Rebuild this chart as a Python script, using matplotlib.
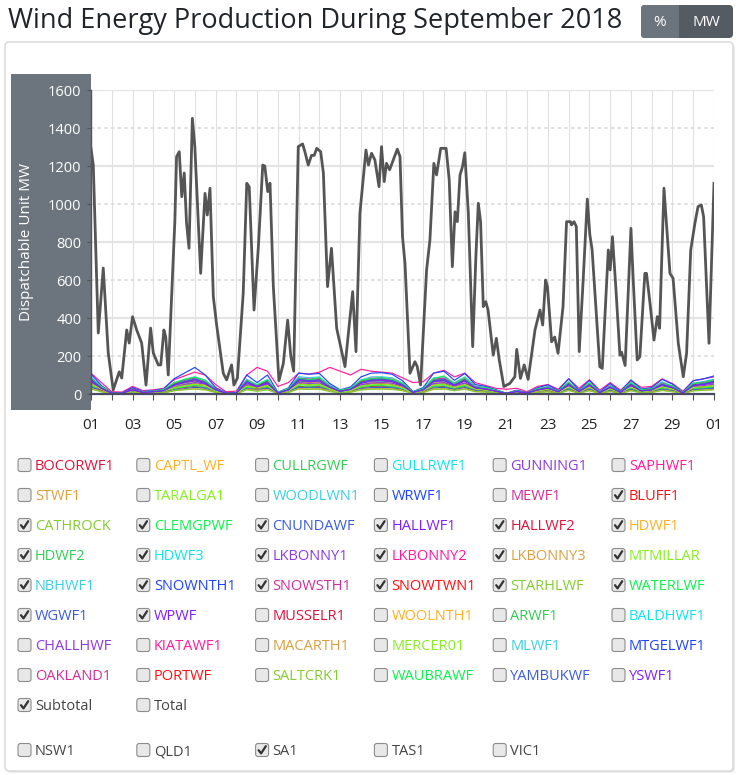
import numpy as np
import matplotlib
matplotlib.use("Agg")
import matplotlib.pyplot as plt
from matplotlib.patches import FancyBboxPatch, Rectangle

plt.rcParams['font.family'] = ['Open Sans', 'DejaVu Sans']

W, H = 738, 775

# SA subtotal (MW): day offset from 1 Sep, value
sub_days = [0.0, 0.11, 0.35, 0.59, 0.83, 1.07, 1.36, 1.48, 1.72, 1.84, 2.0, 2.2, 2.44, 2.65,
            2.87, 3.0, 3.24, 3.36, 3.51, 3.6, 3.72, 4.04, 4.12, 4.25, 4.37, 4.49, 4.6, 4.72,
            4.88, 5.0, 5.28, 5.49, 5.6, 5.73, 5.89, 6.05, 6.37, 6.53, 6.77, 6.88, 7.05, 7.33,
            7.5, 7.62, 7.85, 8.06, 8.27, 8.37, 8.51, 8.62, 8.78, 9.05, 9.26, 9.47, 9.62, 9.76,
            9.98, 10.19, 10.3, 10.46, 10.62, 10.75, 10.87, 11.06, 11.19, 11.39, 11.58, 11.83,
            12.23, 12.6, 12.76, 12.95, 13.24, 13.36, 13.51, 13.67, 13.87, 13.99, 14.12, 14.23,
            14.38, 14.75, 14.88, 15.0, 15.12, 15.36, 15.6, 15.71, 15.87, 16.16, 16.32, 16.51,
            16.64, 16.84, 17.1, 17.25, 17.4, 17.53, 17.64, 17.77, 17.89, 18.0, 18.17, 18.38,
            18.54, 18.65, 18.76, 18.89, 19.01, 19.12, 19.37, 19.52, 19.66, 19.88, 20.17, 20.41,
            20.5, 20.68, 20.86, 21.05, 21.38, 21.5, 21.62, 21.75, 21.89, 21.98, 22.18, 22.33,
            22.49, 22.73, 22.9, 23.09, 23.14, 23.26, 23.37, 23.51, 23.7, 23.9, 24.02, 24.13,
            24.5, 24.62, 24.91, 25.0, 25.11, 25.27, 25.47, 25.55, 25.72, 26.0, 26.11, 26.3,
            26.43, 26.67, 26.75, 26.9, 27.11, 27.27, 27.38, 27.59, 27.88, 28.03, 28.28, 28.52,
            28.68, 28.88, 29.08, 29.23, 29.39, 29.5, 29.76, 30.0]
sub_mw = [1293, 1205, 321, 663, 216, 21, 117, 84, 337, 268, 407, 337, 268, 47,
          347, 216, 153, 153, 337, 300, 100, 916, 1249, 1275, 1038, 1163, 900, 767,
          1451, 1302, 635, 1056, 942, 1083, 512, 363, 109, 74, 153, 47, 84, 530,
          1109, 1090, 442, 775, 1205, 1200, 1065, 1109, 565, 70, 160, 389, 200, 120,
          1302, 1316, 1275, 1205, 1256, 1256, 1293, 1275, 1163, 565, 767, 346,
          144, 539, 223, 951, 1284, 1205, 1267, 1232, 1091, 1302, 1118, 1214,
          1180, 1289, 1249, 828, 688, 109, 170, 144, 47, 653, 810, 1214,
          1153, 1293, 1293, 1126, 670, 959, 907, 1153, 1197, 1270, 951, 249,
          740, 1004, 907, 460, 486, 442, 205, 293, 179, 39, 56, 91,
          235, 82, 153, 77, 337, 389, 442, 363, 600, 565, 275, 300,
          214, 460, 907, 907, 890, 907, 881, 223, 600, 1026, 839, 760,
          144, 135, 758, 653, 828, 565, 205, 220, 150, 872, 600, 179,
          196, 635, 635, 495, 284, 407, 346, 1083, 635, 609, 267, 91,
          214, 758, 898, 986, 995, 933, 267, 1109]

# individual SA units (MW), sampled every half day
farm_days = np.arange(0, 30.5, 0.5)
bluff1 = [40,17,2,3,13,5,7,10,26,34,41,33,12,2,3,35,22,34,3,12,40,38,40,20,8,14,33,40,41,37,26,5,13,38,40,27,40,18,15,8,2,7,3,12,18,7,28,7,27,4,20,5,27,10,13,28,19,3,25,29,34]
cathrock = [50,25,3,5,18,6,10,14,30,45,48,42,14,4,4,40,30,42,5,16,52,46,50,24,10,18,40,48,50,47,30,6,17,45,50,32,48,24,18,10,2,9,4,15,22,8,35,10,33,5,25,6,33,12,16,35,24,4,32,36,43]
clemgpwf = [43,18,2,3,14,5,8,11,28,37,44,35,14,3,3,37,23,36,3,13,43,41,43,22,9,15,35,43,44,40,28,5,14,40,43,28,43,20,16,9,2,8,3,13,19,7,30,8,28,5,22,6,29,10,14,30,20,3,27,31,37]
cnundawf = [35,20,4,5,12,6,8,10,20,28,35,30,14,4,5,28,22,30,6,12,34,33,34,20,9,14,28,34,35,33,24,6,12,32,35,24,34,18,14,8,2,8,4,12,16,7,25,8,24,5,18,6,24,10,12,25,17,4,22,26,30]
hallwf1 = [72,30,4,5,23,8,12,18,48,62,80,59,23,5,5,62,39,61,6,22,72,60,71,36,14,25,59,71,72,67,47,8,23,67,72,48,78,33,27,15,3,13,5,22,31,12,58,13,48,8,36,10,48,17,23,50,34,6,46,52,62]
hallwf2 = [54,23,3,4,17,6,9,13,35,46,54,44,17,4,4,46,29,45,4,16,54,51,53,27,11,18,44,53,54,50,35,6,17,50,54,35,53,25,20,11,2,10,4,16,23,9,38,10,35,6,27,7,36,13,17,38,26,4,34,39,46]
hdwf1 = [61,26,3,4,19,7,10,15,40,52,61,50,19,4,4,52,33,51,5,18,61,58,60,30,12,21,50,60,61,57,39,7,19,57,61,40,60,28,22,13,2,11,4,18,26,10,42,11,40,6,30,8,41,14,19,42,29,5,38,44,52]
hdwf2 = [68,29,4,5,22,8,12,17,45,58,68,56,22,5,4,58,37,58,5,21,68,65,68,34,14,23,56,68,68,64,44,8,22,64,68,45,68,32,25,14,3,13,5,21,30,12,48,13,45,7,34,9,46,16,22,48,32,5,43,50,58]
hdwf3 = [80,34,4,5,25,9,14,20,52,68,85,65,25,5,5,68,43,67,6,24,80,76,79,40,16,27,65,79,80,75,51,9,25,75,80,52,79,37,29,17,3,15,5,24,35,14,56,15,52,8,40,10,54,19,25,56,38,6,50,58,68]
lkbonny1 = [62,30,5,6,18,8,10,14,36,50,60,52,22,6,6,50,38,52,8,20,60,56,58,34,14,22,48,58,60,57,42,10,20,55,60,42,58,30,24,14,4,12,5,20,28,12,42,12,40,7,30,9,40,15,20,42,30,6,38,44,52]
lkbonny2 = [110,60,12,10,40,18,22,30,75,95,115,100,50,12,15,100,140,120,40,60,110,105,115,140,120,100,130,120,115,110,85,60,65,110,125,90,110,60,45,30,25,30,12,40,50,25,80,30,75,20,60,20,70,35,40,80,55,15,70,80,90]
lkbonny3 = [28,14,2,2,9,4,5,7,18,24,28,24,10,2,2,24,20,24,3,9,28,27,28,18,10,12,24,28,28,27,20,6,10,27,28,19,28,14,11,6,2,5,2,9,13,5,20,5,19,3,14,4,19,7,9,20,14,2,18,21,24]
mtmillar = [52,26,3,4,18,7,10,14,33,44,52,44,15,4,4,42,32,44,5,16,52,48,52,26,10,18,42,50,52,48,32,6,18,48,52,34,50,26,20,11,2,10,4,16,24,9,37,10,36,5,27,7,36,13,17,37,26,4,34,38,45]
nbhwf1 = [91,38,5,6,29,11,16,23,60,78,91,74,29,6,6,78,49,77,7,28,91,86,90,46,18,31,74,90,91,85,59,11,29,85,91,60,90,42,34,19,4,17,6,28,40,16,64,17,60,10,46,12,61,22,29,64,43,7,58,66,78]
snownth1 = [105,45,6,7,34,13,18,27,80,110,140,100,34,7,7,100,60,100,9,32,110,104,108,55,22,37,90,110,112,104,70,13,34,110,120,72,108,50,40,23,4,20,7,33,48,19,80,20,72,12,55,14,74,26,34,77,52,9,70,80,95]
snowsth1 = [84,35,4,6,26,10,14,21,55,72,84,68,26,6,6,72,45,70,7,25,84,79,83,42,17,29,68,83,84,78,54,10,26,78,84,55,83,39,31,18,3,15,6,25,36,14,58,15,55,9,42,11,56,20,26,58,40,7,53,61,72]
snowtwn1 = [75,32,4,5,24,9,13,19,50,64,75,61,24,5,5,64,41,63,6,23,75,71,74,38,15,26,61,74,75,70,49,9,24,70,75,50,74,35,28,16,3,14,5,23,33,13,52,14,50,8,38,10,50,18,24,52,36,6,48,54,64]
starhlwf = [26,11,1,2,8,3,4,6,17,22,26,21,8,2,2,22,14,22,2,8,26,24,25,13,5,9,21,25,26,24,17,3,8,24,26,17,25,12,10,5,1,5,2,8,11,4,18,5,17,3,13,3,17,6,8,18,12,2,16,19,22]
waterlwf = [80,40,5,6,22,12,15,24,58,76,88,70,24,6,8,70,48,74,8,28,82,75,86,40,20,30,72,80,86,76,56,12,28,80,95,52,86,36,34,20,4,16,6,28,34,16,62,14,58,10,40,12,60,22,28,55,42,8,56,58,76]
wgwf1 = [78,30,5,5,22,9,12,18,48,66,78,60,22,5,5,66,40,62,6,22,78,70,74,36,14,25,60,74,78,70,48,9,22,70,78,48,74,34,27,15,3,13,5,22,32,12,52,13,48,8,36,10,50,17,22,52,35,6,46,54,66]
wpwf = [70,30,4,5,22,8,12,17,46,60,70,56,22,5,5,60,37,58,5,21,70,66,68,35,14,24,56,68,70,65,45,8,22,65,70,46,68,32,25,15,3,13,5,21,30,12,48,13,46,7,35,9,46,16,22,48,33,5,44,50,60]

farm_labels = ['BOCORWF1', 'CAPTL_WF', 'CULLRGWF', 'GULLRWF1', 'GUNNING1', 'SAPHWF1',
               'STWF1', 'TARALGA1', 'WOODLWN1', 'WRWF1', 'MEWF1', 'BLUFF1',
               'CATHROCK', 'CLEMGPWF', 'CNUNDAWF', 'HALLWF1', 'HALLWF2', 'HDWF1',
               'HDWF2', 'HDWF3', 'LKBONNY1', 'LKBONNY2', 'LKBONNY3', 'MTMILLAR',
               'NBHWF1', 'SNOWNTH1', 'SNOWSTH1', 'SNOWTWN1', 'STARHLWF', 'WATERLWF',
               'WGWF1', 'WPWF', 'MUSSELR1', 'WOOLNTH1', 'ARWF1', 'BALDHWF1',
               'CHALLHWF', 'KIATAWF1', 'MACARTH1', 'MERCER01', 'MLWF1', 'MTGELWF1',
               'OAKLAND1', 'PORTWF', 'SALTCRK1', 'WAUBRAWF', 'YAMBUKWF', 'YSWF1']
sa_units = {'BLUFF1': bluff1, 'CATHROCK': cathrock, 'CLEMGPWF': clemgpwf, 'CNUNDAWF': cnundawf,
            'HALLWF1': hallwf1, 'HALLWF2': hallwf2, 'HDWF1': hdwf1, 'HDWF2': hdwf2, 'HDWF3': hdwf3,
            'LKBONNY1': lkbonny1, 'LKBONNY2': lkbonny2, 'LKBONNY3': lkbonny3, 'MTMILLAR': mtmillar,
            'NBHWF1': nbhwf1, 'SNOWNTH1': snownth1, 'SNOWSTH1': snowsth1, 'SNOWTWN1': snowtwn1,
            'STARHLWF': starhlwf, 'WATERLWF': waterlwf, 'WGWF1': wgwf1, 'WPWF': wpwf}
palette = ['#dc143c', '#ffb020', '#33cc55', '#10e4ee', '#8a3be2', '#ff1c9c', '#daa040', '#88f020',
           '#3ccfe0', '#1e44ff', '#d0309a', '#ff1010', '#84cc30', '#10f050', '#3b5bdb', '#8020ff']
regions = ['NSW1', 'QLD1', 'SA1', 'TAS1', 'VIC1']
day_labels = ['01', '03', '05', '07', '09', '11', '13', '15', '17', '19', '21', '23', '25', '27', '29', '01']

fig = plt.figure(figsize=(W / 100, H / 100), dpi=100)

# page layer in pixel coords
bg = fig.add_axes([0, 0, 1, 1])
bg.set_xlim(0, W)
bg.set_ylim(H, 0)
bg.axis('off')

# card panel
bg.add_patch(FancyBboxPatch((7, 44), 728, 729, boxstyle='round,pad=0,rounding_size=4',
                            fc='#ececec', ec='none'))
bg.add_patch(FancyBboxPatch((5, 42), 728, 729, boxstyle='round,pad=0,rounding_size=4',
                            fc='white', ec='#d6d6d6', lw=1))

# title + % / MW toggle
title = bg.text(8, 21, 'Wind Energy Production During September 2018', fontsize=19,
                va='center', ha='left', color='#212529')
fig.canvas.draw()
tw = title.get_window_extent().width
title.set_fontsize(title.get_fontsize() * 614 / tw)

bg.add_patch(FancyBboxPatch((641, 5), 92, 33, boxstyle='round,pad=0,rounding_size=4',
                            fc='#545b62', ec='none'))
bg.add_patch(FancyBboxPatch((641, 5), 50, 33, boxstyle='round,pad=0,rounding_size=4',
                            fc='#6c757d', ec='none'))
bg.add_patch(Rectangle((679, 5), 20, 33, fc='#545b62', ec='none'))
bg.text(660, 22, '%', color='white', fontsize=11, ha='center', va='center')
bg.text(706, 22, 'MW', color='white', fontsize=11, ha='center', va='center')

# y-axis band
bg.add_patch(Rectangle((11, 74), 80, 336, fc='#6c757d', ec='none'))
bg.text(27, 242, 'Dispatchable Unit MW', rotation=90, color='white', fontsize=11,
        ha='center', va='center')

# chart
ax = fig.add_axes([91 / W, 1 - 394 / H, 623 / W, 304 / H])
ax.set_facecolor('white')
ax.set_xlim(0, 30)
ax.set_ylim(0, 1600)

for d in range(31):
    ax.axvline(d, color='#e0e0e0', lw=0.8, zorder=0)
for v in range(200, 1601, 200):
    if v % 400 == 0:
        ax.axhline(v, color='#e4e4e4', lw=1.6, zorder=0)
    else:
        ax.axhline(v, color='#d9d9d9', lw=1.2, ls=(0, (2, 2)), zorder=0)

for name, vals in sa_units.items():
    c = palette[farm_labels.index(name) % 16]
    ax.plot(farm_days, vals, color=c, lw=0.85, zorder=2)

ax.plot(sub_days, sub_mw, color='#555555', lw=2.0, zorder=3, solid_joinstyle='round')

for s in ['top', 'right']:
    ax.spines[s].set_visible(False)
ax.spines['left'].set_color('#555555')
ax.spines['left'].set_linewidth(1.0)
ax.spines['bottom'].set_color('#4a4a60')
ax.spines['bottom'].set_linewidth(1.6)
ax.spines['bottom'].set_zorder(4)

ax.set_yticks(range(0, 1601, 200))
ax.tick_params(axis='y', colors='#555555', labelcolor='white', labelsize=10.5, length=3, pad=4)
ax.set_xticks(range(31))
ax.set_xticklabels([day_labels[d // 2] if d % 2 == 0 else '' for d in range(31)])
ax.tick_params(axis='x', colors='#555555', labelcolor='#222222', labelsize=11, length=4, pad=13)

# unit selector
def checkbox(x, yc, on):
    bg.add_patch(FancyBboxPatch((x, yc - 6.5), 13, 13, boxstyle='round,pad=0,rounding_size=2.5',
                                fc='#e8e8e8', ec='#8c8c8c', lw=0.8))
    if on:
        bg.plot([x + 3, x + 5.5, x + 10.2], [yc + 0.2, yc + 3.4, yc - 3.8], color='#333333',
                lw=1.6, solid_capstyle='round', solid_joinstyle='round')

col_box = [18 + 118.8 * c for c in range(6)]
col_txt = [35 + 118.8 * c for c in range(6)]

for i, name in enumerate(farm_labels):
    r, c = divmod(i, 6)
    yc = 465 + 30 * r
    checkbox(col_box[c], yc, name in sa_units)
    bg.text(col_txt[c], yc + 1.5, name, color=palette[i % 16], fontsize=10.5, ha='left', va='center')

for c, (lab, on) in enumerate([('Subtotal', True), ('Total', False)]):
    checkbox(col_box[c], 705, on)
    bg.text(col_txt[c], 706.5, lab, color='#444444', fontsize=10.5, ha='left', va='center')

for c, reg in enumerate(regions):
    checkbox(col_box[c], 750, reg == 'SA1')
    bg.text(col_txt[c], 751.5, reg, color='#444444', fontsize=10.5, ha='left', va='center')

fig.savefig('out.png', dpi=100)
